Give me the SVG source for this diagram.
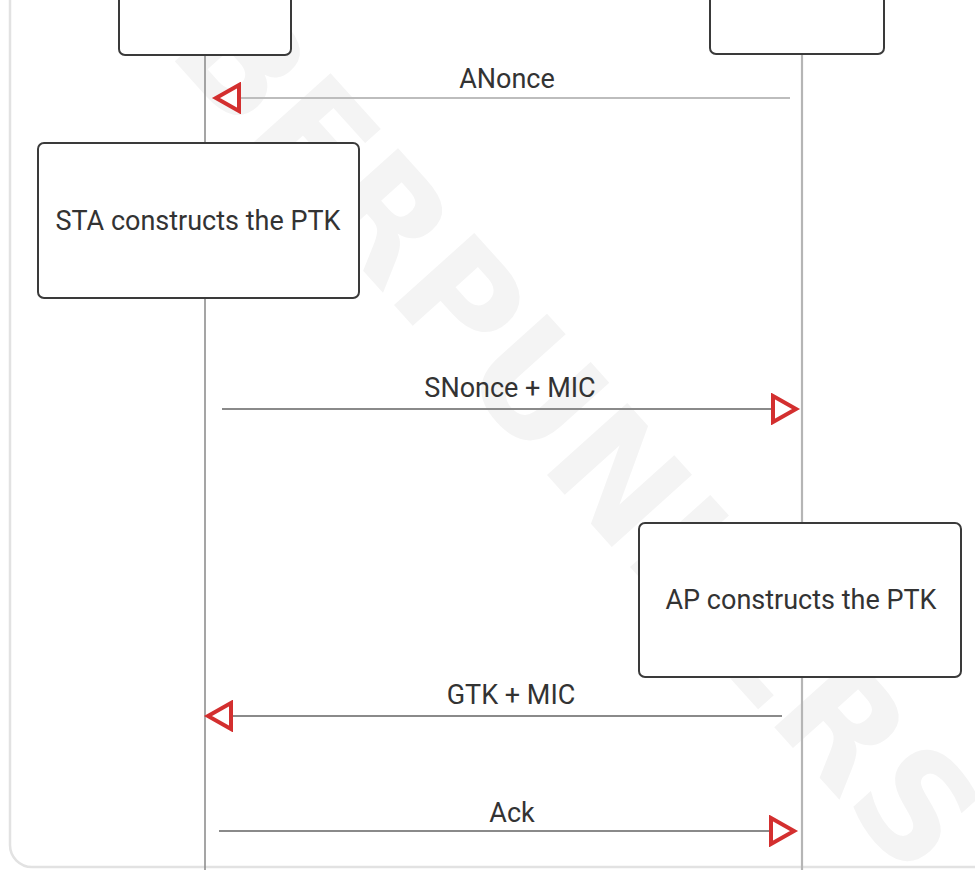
<svg xmlns="http://www.w3.org/2000/svg" width="975" height="870" viewBox="0 0 975 870">
  <style>
    .lbl { font-family: Roboto, "Liberation Sans", Arial, sans-serif; font-size: 27px; fill: #333333; text-anchor: middle; }
    .box { fill: #ffffff; stroke: #3a3a3a; stroke-width: 2; }
    .life { fill: none; }
    .msg { fill: none; stroke: #8a8a8a; stroke-width: 1.8; }
    .msg-light { fill: none; stroke: #bdbdbd; stroke-width: 2.2; }
    .wm { font-family: "DejaVu Sans", "Liberation Sans", Arial, sans-serif; font-weight: bold; font-size: 148px; fill: #f4f4f4; text-anchor: middle; }
  </style>
  <defs>
    <marker id="arrow" markerUnits="userSpaceOnUse" markerWidth="32" markerHeight="32" refX="27" refY="16" orient="auto" viewBox="0 0 32 32">
      <path d="M4,3 L27,16 L4,29 Z" fill="#ffffff" stroke="#d32f2f" stroke-width="4" stroke-linejoin="miter"/>
    </marker>
  </defs>
  <rect width="975" height="870" fill="#ffffff"/>
  <g id="watermark">
    <text class="wm" x="505" y="352" dominant-baseline="central" transform="rotate(48 505 352)">CYBERPUNKERS</text>
  </g>
  <rect id="frame" x="10" y="-30" width="1010" height="897" rx="22" fill="none" stroke="#e2e2e2" stroke-width="2.5"/>
  <g id="lifelines">
    <line class="life" x1="205" y1="55" x2="205" y2="870" stroke="#8f8f8f" stroke-width="1.6"/>
    <line class="life" x1="802" y1="54" x2="802" y2="870" stroke="#b5b5b5" stroke-width="2.2"/>
  </g>
  <g id="sta">
    <rect class="box" x="119" y="-20" width="172" height="75" rx="6"/>
  </g>
  <g id="ap">
    <rect class="box" x="710" y="-20" width="174" height="74" rx="6"/>
  </g>
  <g id="sta-ptk">
    <rect class="box" x="38" y="143" width="321" height="155" rx="6"/>
    <text class="lbl" x="198" y="230">STA constructs the PTK</text>
  </g>
  <g id="ap-ptk">
    <rect class="box" x="639" y="523" width="322" height="154" rx="6"/>
    <text class="lbl" x="801" y="609">AP constructs the PTK</text>
  </g>
  <g id="connectors">
    <line class="msg-light" x1="790" y1="98" x2="216" y2="98" marker-end="url(#arrow)"/>
    <text class="lbl" x="507" y="88">ANonce</text>
    <line class="msg" x1="222" y1="409" x2="796" y2="409" marker-end="url(#arrow)"/>
    <text class="lbl" x="510" y="397">SNonce + MIC</text>
    <line class="msg" x1="782" y1="716" x2="208" y2="716" marker-end="url(#arrow)"/>
    <text class="lbl" x="511" y="704">GTK + MIC</text>
    <line class="msg" x1="219" y1="831" x2="794" y2="831" marker-end="url(#arrow)"/>
    <text class="lbl" x="512" y="822">Ack</text>
  </g>
</svg>
